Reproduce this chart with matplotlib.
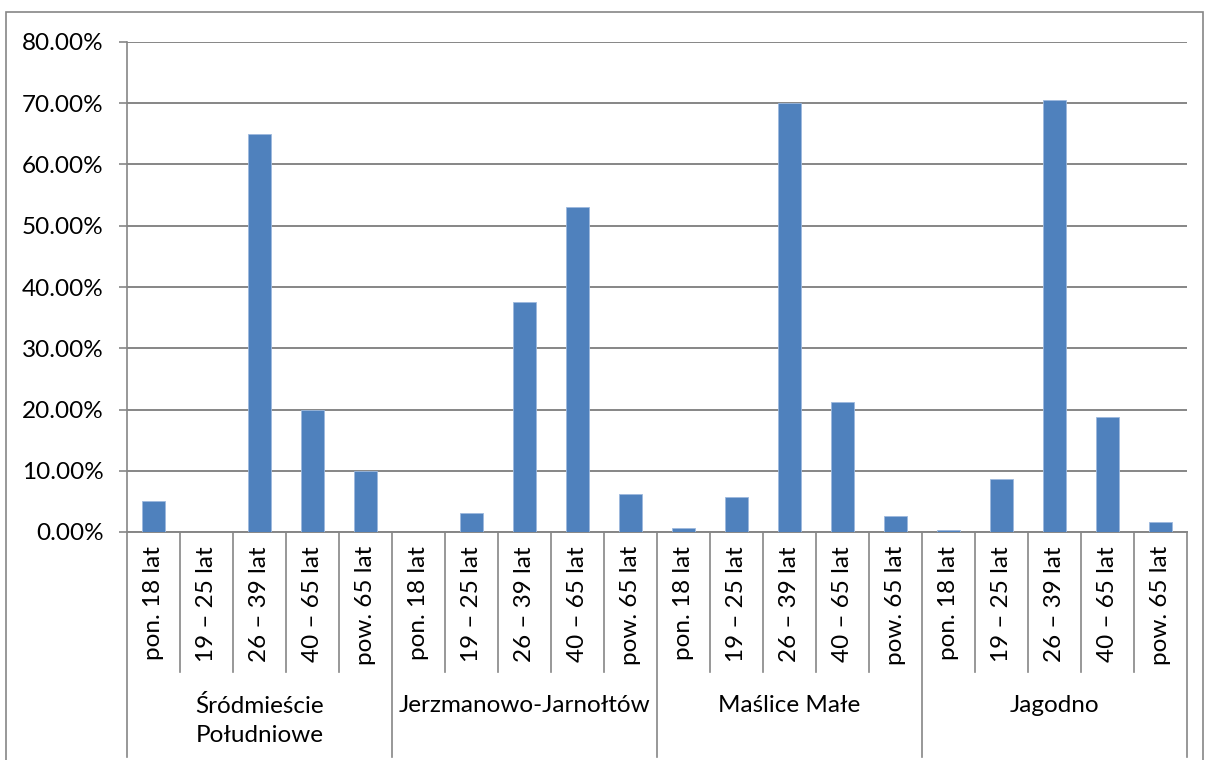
import numpy as np
import matplotlib
matplotlib.use('Agg')
import matplotlib.pyplot as plt
from matplotlib.patches import Rectangle

plt.rcParams['font.family'] = ['Lato', 'DejaVu Sans']

# data
districts = ['Śródmieście\nPołudniowe', 'Jerzmanowo-Jarnołtów', 'Maślice Małe', 'Jagodno']
ages = ['pon. 18 lat', '19 – 25 lat', '26 – 39 lat', '40 – 65 lat', 'pow. 65 lat']
srodmiescie = [5.0, 0.0, 65.0, 20.0, 10.0]
jerzmanowo = [0.0, 3.1, 37.5, 53.1, 6.25]
maslice = [0.65, 5.7, 70.0, 21.3, 2.6]
jagodno = [0.35, 8.6, 70.6, 18.8, 1.6]

values = np.array(srodmiescie + jerzmanowo + maslice + jagodno) / 100
n_age = len(ages)
x = np.arange(len(values))

W, H = 1205, 760
fig = plt.figure(figsize=(W/100, H/100), dpi=100)
gray = '#868686'
fs = 17.5

# outer chart border
fig.patches.append(Rectangle((6/W, -0.1), (1203-6)/W, 1.1 - 12/H, transform=fig.transFigure,
                             fill=False, edgecolor=gray, lw=1.2))

left, right, top, bottom = 127, 1187, 42, 532
ax = fig.add_axes([left/W, 1-bottom/H, (right-left)/W, (bottom-top)/H])
ax.bar(x, values, width=0.42, color='#4F81BD', edgecolor='#9DB9DE', linewidth=0.6, zorder=3)

ax.set_xlim(-0.5, len(values)-0.5)
ax.set_ylim(0, 0.8)
ax.set_yticks(np.arange(0, 0.81, 0.1))
ax.set_yticklabels([f'{v*100:.2f}%' for v in np.arange(0, 0.81, 0.1)], fontsize=fs)
ax.yaxis.grid(True, color=gray, lw=1.4)
ax.set_axisbelow(True)
ax.tick_params(axis='y', length=6, width=1.2, color=gray, pad=11)
ax.set_xticks([])
for s in ['top', 'right']:
    ax.spines[s].set_visible(False)
ax.spines['left'].set_color(gray)
ax.spines['bottom'].set_color(gray)
ax.spines['left'].set_linewidth(1.2)
ax.spines['bottom'].set_linewidth(1.4)

# multi-level category axis
tr = ax.get_xaxis_transform()
ph = bottom - top
def ay(p):
    return (bottom - p) / ph

for i in range(len(values)+1):
    xb = i - 0.5
    y_end = ay(757) if i % n_age == 0 else ay(672)
    ax.plot([xb, xb], [0, y_end], transform=tr, color=gray, lw=1.2, clip_on=False)

for i in range(len(values)):
    ax.text(i, ay(546), ages[i % n_age], transform=tr, rotation=90, ha='center', va='top',
            fontsize=fs)

for g, name in enumerate(districts):
    cx = g*n_age + (n_age-1)/2
    ax.text(cx, ay(695), name, transform=tr, ha='center', va='top', fontsize=fs,
            linespacing=1.45, multialignment='center')

fig.savefig('out.png', dpi=100)
